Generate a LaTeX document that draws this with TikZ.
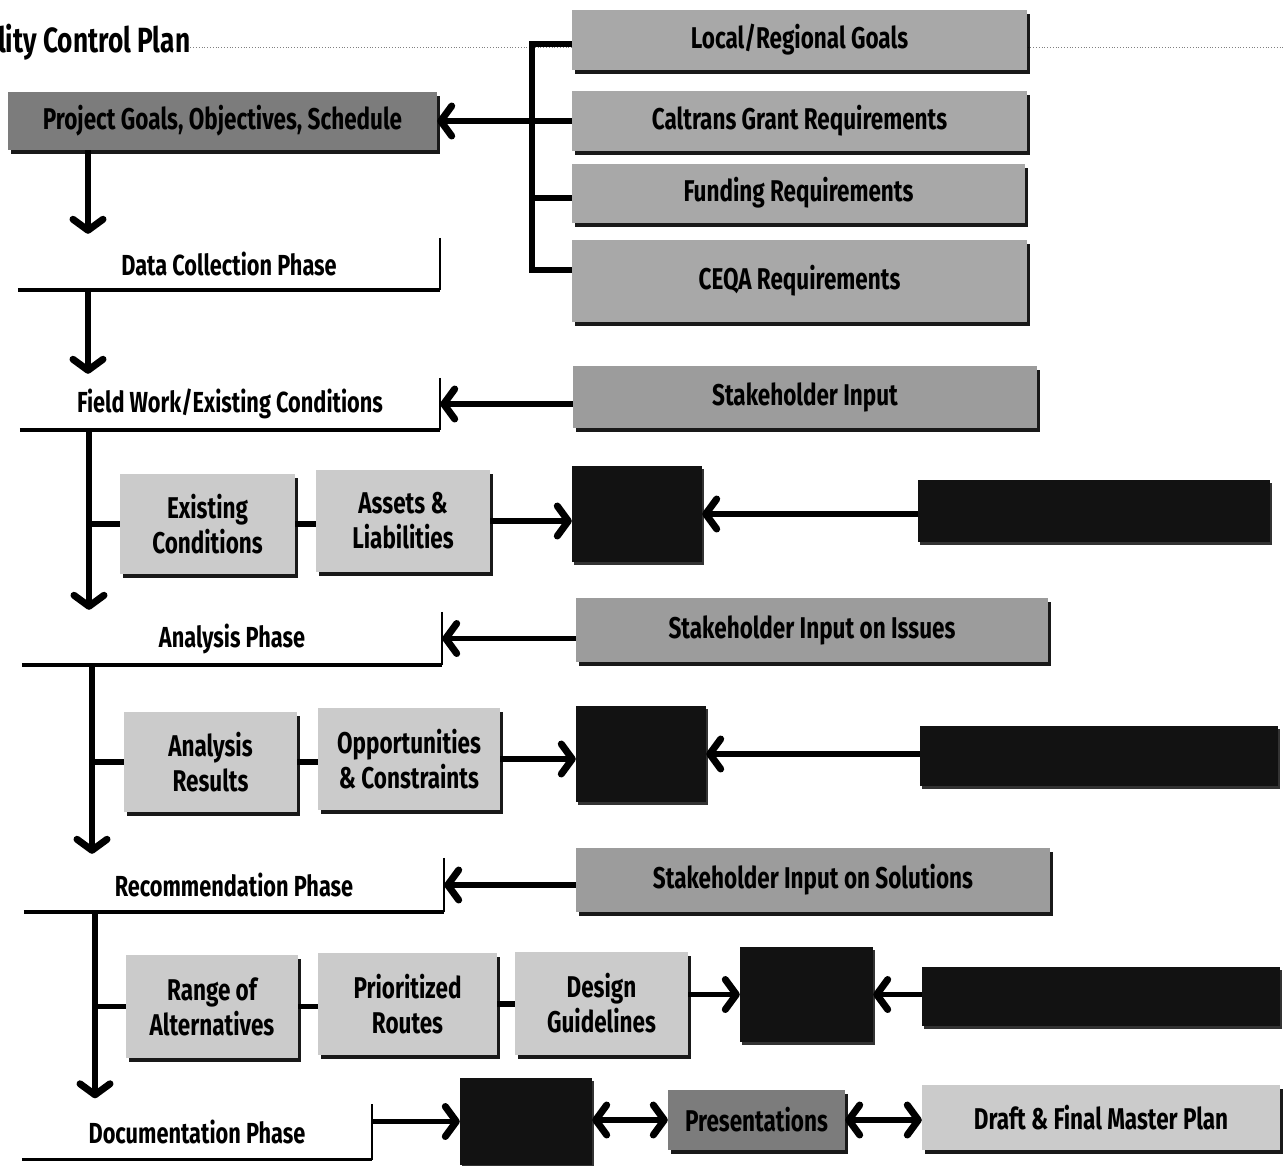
\documentclass[tikz,border=0pt]{standalone}
\usepackage{fontspec}
\setmainfont{Fira Sans}[FakeStretch=0.75]
\usetikzlibrary{arrows.meta,shadows,calc}
\definecolor{goalgray}{HTML}{A8A8A8}
\definecolor{shgray}{HTML}{9C9C9C}
\definecolor{lightbox}{HTML}{CBCBCB}
\definecolor{darkbox}{HTML}{7C7C7C}
\definecolor{blackbox}{HTML}{121212}
\begin{document}
\begin{tikzpicture}[x=1pt,y=-1pt,
  conn/.style={line width=5.5pt},
  chev/.tip={Straight Barb[length=11pt,width=30pt,line width=7pt,round]},
  arr/.style={conn,-chev},
  darr/.style={conn,chev-chev},
  gbox/.style={draw=none,fill=#1,inner sep=0pt,align=center,
    font=\bfseries\fontsize{30}{35}\selectfont,
    drop shadow={shadow xshift=3pt,shadow yshift=-4pt,fill=black,opacity=0.9}},
  gbox/.default=lightbox,
  bbox/.style={draw=none,fill=blackbox,inner sep=0pt,
    drop shadow={shadow xshift=2pt,shadow yshift=-3pt,fill=black,opacity=0.8}},
  phase/.style={inner sep=0pt,font=\bfseries\fontsize{29}{33}\selectfont},
  rline/.style={line width=1.8pt},
  bline/.style={line width=3.5pt}
]
\useasboundingbox (0,0) rectangle (1284,1165);

% title
\node[anchor=west,inner sep=0pt,font=\bfseries\fontsize{35}{40}\selectfont] (title) at (-2,42) {lity Control Plan};
\coordinate (titleend) at (1284,47);
\draw[gray,dotted,line width=0.8pt] (title.east |- titleend) -- (titleend);

% project goals
\node[gbox=darkbox,minimum width=429pt,minimum height=58pt] (pg) at (222.5,121) {Project Goals, Objectives, Schedule};

% right goal boxes
\node[gbox=goalgray,minimum width=455pt,minimum height=60pt] (loc) at (799.5,40) {Local/Regional Goals};
\node[gbox=goalgray,minimum width=455pt,minimum height=60pt] (cal) at (799.5,121) {Caltrans Grant Requirements};
\node[gbox=goalgray,minimum width=453pt,minimum height=59pt] (fund) at (798.5,193) {Funding Requirements};
\node[gbox=goalgray,minimum width=455pt,minimum height=82pt] (ceqa) at (799.5,281) {CEQA Requirements};

% bracket
\coordinate (bt) at (532,44);
\coordinate (bb) at (532,270);
\draw[conn] (loc.west |- bt) -- (bt) -- (bb) -- (ceqa.west |- bb);
\draw[conn] (fund.west |- 0,198) -- (bt |- 0,198);
\draw[arr] (cal.west) -- (pg.east);

% phases
\node[phase,minimum width=422pt,minimum height=52pt] (dc) at (229,264) {Data Collection Phase};
\node[phase,minimum width=420pt,minimum height=52pt] (fw) at (230,404) {Field Work/Existing Conditions};
\node[phase,minimum width=420pt,minimum height=53pt] (ap) at (232,638.5) {Analysis Phase};
\node[phase,minimum width=420pt,minimum height=54pt] (rp) at (234,885) {Recommendation Phase};
\node[phase,minimum width=350pt,minimum height=55pt] (doc) at (197,1132) {Documentation Phase};
\foreach \p in {dc,fw,ap,rp,doc}{
  \draw[rline] (\p.north east) -- (\p.south east);
  \draw[bline] (\p.south west) -- (\p.south east);
}

% spines
\coordinate (s1) at (88,0);
\coordinate (s2) at (89,0);
\coordinate (s3) at (92,0);
\coordinate (s4) at (95,0);
\draw[arr] (pg.south -| s1) -- ([yshift=4pt]dc.north -| s1);
\draw[arr] (dc.south -| s1) -- ([yshift=4pt]fw.north -| s1);

% stakeholder input
\node[gbox=shgray,minimum width=464pt,minimum height=62pt] (sh1) at (805,397) {Stakeholder Input};
\draw[arr] (sh1.west |- fw.east) -- (fw.east);

% field work branch
\node[gbox,minimum width=175pt,minimum height=100pt] (ec) at (207.5,524) {Existing\\Conditions};
\node[gbox,minimum width=174pt,minimum height=102pt] (al) at (403,521) {Assets \&\\Liabilities};
\node[bbox,minimum width=130pt,minimum height=96pt] (bk1) at (637,514) {};
\node[bbox,minimum width=352pt,minimum height=62pt] (lb1) at (1094,511) {};
\draw[arr] (fw.south -| s2) -- ([yshift=2pt]ap.north -| s2);
\draw[conn] (ec.west -| s2) -- (ec.west);
\draw[conn] (ec.east) -- (al.west |- ec.east);
\draw[arr] (al.east) -- (bk1.west |- al.east);
\draw[arr] (lb1.west |- bk1.east) -- (bk1.east);

% analysis
\node[gbox=shgray,minimum width=472pt,minimum height=64pt] (shi) at (812,630) {Stakeholder Input on Issues};
\draw[arr] (shi.west |- ap.east) -- (ap.east);
\node[gbox,minimum width=173pt,minimum height=100pt] (ar) at (210.5,762) {Analysis\\Results};
\node[gbox,minimum width=182pt,minimum height=102pt] (oc) at (409,759) {Opportunities\\\& Constraints};
\node[bbox,minimum width=130pt,minimum height=96pt] (bk2) at (641,754) {};
\node[bbox,minimum width=358pt,minimum height=60pt] (lb2) at (1099,756) {};
\draw[arr] (ap.south -| s3) -- ([yshift=4pt]rp.north -| s3);
\draw[conn] (ar.west -| s3) -- (ar.west);
\draw[conn] (ar.east) -- (oc.west |- ar.east);
\draw[arr] (oc.east) -- (bk2.west |- oc.east);
\draw[arr] (lb2.west |- bk2.east) -- (bk2.east);

% recommendation
\node[gbox=shgray,minimum width=474pt,minimum height=64pt] (shs) at (813,880) {Stakeholder Input on Solutions};
\draw[arr] (shs.west |- rp.east) -- (rp.east);
\node[gbox,minimum width=172pt,minimum height=103pt] (ra) at (212,1006.5) {Range of\\Alternatives};
\node[gbox,minimum width=179pt,minimum height=102pt] (pr) at (407.5,1004) {Prioritized\\Routes};
\node[gbox,minimum width=173pt,minimum height=103pt] (dg) at (601.5,1003.5) {Design\\Guidelines};
\node[bbox,minimum width=133pt,minimum height=95pt] (bk3) at (806.5,994.5) {};
\node[bbox,minimum width=358pt,minimum height=59pt] (lb3) at (1101,996) {};
\draw[arr] (rp.south -| s4) -- ([yshift=6pt]doc.north -| s4);
\draw[conn] (ra.west -| s4) -- (ra.west);
\draw[conn] (ra.east) -- (pr.west |- ra.east);
\draw[conn] (pr.east) -- (dg.west |- pr.east);
\draw[arr] (dg.east |- bk3.west) -- (bk3.west);
\draw[arr] (lb3.west |- bk3.east) -- (bk3.east);

% documentation
\node[bbox,minimum width=132pt,minimum height=87pt] (bk4) at (526,1121.5) {};
\node[gbox=darkbox,minimum width=177pt,minimum height=60pt] (pres) at (756.5,1120) {Presentations};
\node[gbox,minimum width=358pt,minimum height=65pt] (draft) at (1101,1117.5) {Draft \& Final Master Plan};
\draw[arr] (doc.east |- bk4.west) -- (bk4.west);
\draw[darr] (bk4.east |- pres.west) -- (pres.west);
\draw[darr] (pres.east) -- (draft.west |- pres.east);
\end{tikzpicture}
\end{document}
